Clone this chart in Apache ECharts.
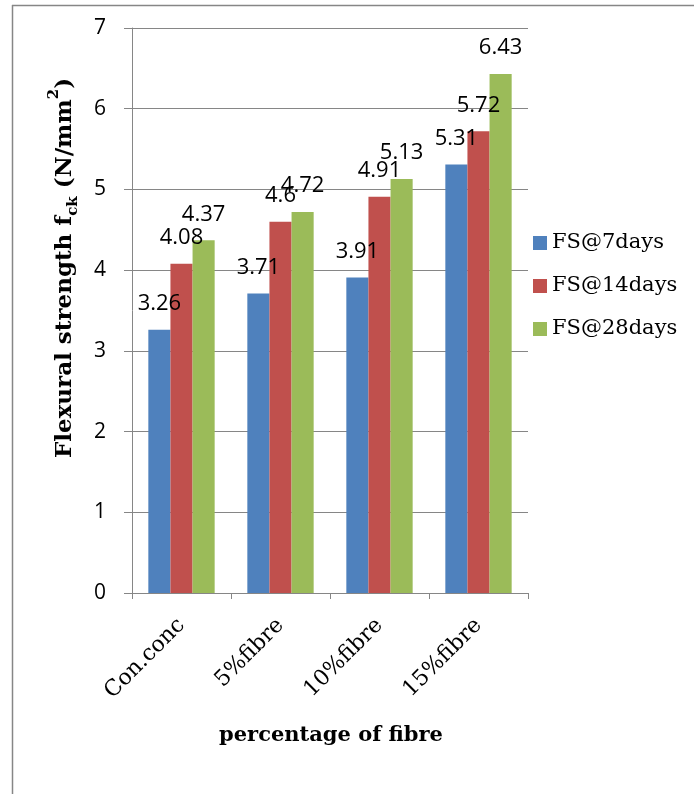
<!DOCTYPE html>
<html>
<head>
<meta charset="utf-8">
<style>
  html, body { margin: 0; padding: 0; background: #ffffff; overflow: hidden; }
  #chart { width: 694px; height: 794px; }
</style>
<script src="https://cdn.jsdelivr.net/npm/echarts@6/dist/echarts.min.js"></script>
</head>
<body>
<div id="chart"></div>
<script>
// Fibre content groups along the x axis
const categories = ['Con.conc', '5%fibre', '10%fibre', '15%fibre'];

// Flexural strength (N/mm²) at each curing age
const fs7days = [3.26, 3.71, 3.91, 5.31];
const fs14days = [4.08, 4.6, 4.91, 5.72];
const fs28days = [4.37, 4.72, 5.13, 6.43];

const seriesNames = ['FS@7days', 'FS@14days', 'FS@28days'];
const yTicks = { min: 0, max: 7, interval: 1 };

const colors = ['#4F81BD', '#C0504D', '#9BBB59'];
const axisGrey = '#868686';
const sansFont = '"Open Sans", "Noto Sans", sans-serif';
const serifFont = '"DejaVu Serif", "Liberation Serif", serif';

const chart = echarts.init(document.getElementById('chart'), null, { renderer: 'canvas' });

function barSeries(name, values, color) {
  return {
    name: name,
    type: 'bar',
    data: values,
    barGap: '0%',
    barCategoryGap: '33%',
    itemStyle: { color: color },
    label: {
      show: true,
      position: 'top',
      distance: 15,
      color: '#000',
      fontFamily: sansFont,
      fontSize: 22
    },
    emphasis: { disabled: true }
  };
}

chart.setOption({
  animation: false,
  backgroundColor: '#ffffff',
  grid: { left: 132, right: 166, top: 28, bottom: 201, containLabel: false },
  legend: {
    orient: 'vertical',
    left: 533,
    top: 232,
    padding: 0,
    itemWidth: 14,
    itemHeight: 14,
    itemGap: 21,
    icon: 'rect',
    data: seriesNames,
    textStyle: { fontFamily: serifFont, fontSize: 21, color: '#000', lineHeight: 22 }
  },
  xAxis: {
    type: 'category',
    data: categories,
    axisLine: { lineStyle: { color: axisGrey, width: 1 } },
    axisTick: { show: true, alignWithLabel: false, length: 6, lineStyle: { color: axisGrey } },
    axisLabel: {
      rotate: 45,
      margin: 29,
      color: '#000',
      fontFamily: serifFont,
      fontSize: 22,
      interval: 0
    }
  },
  yAxis: {
    type: 'value',
    min: yTicks.min,
    max: yTicks.max,
    interval: yTicks.interval,
    axisLine: { show: true, lineStyle: { color: axisGrey, width: 1 } },
    axisTick: { show: true, length: 8, lineStyle: { color: axisGrey } },
    splitLine: { show: true, lineStyle: { color: axisGrey, width: 1 } },
    axisLabel: { margin: 26, color: '#000', fontFamily: sansFont, fontSize: 21 }
  },
  series: [
    barSeries(seriesNames[0], fs7days, colors[0]),
    barSeries(seriesNames[1], fs14days, colors[1]),
    barSeries(seriesNames[2], fs28days, colors[2])
  ],
  graphic: [
    // outer frame: left edge
    {
      type: 'line',
      shape: { x1: 12.5, y1: 5, x2: 12.5, y2: 794 },
      style: { stroke: axisGrey, lineWidth: 1.5 },
      silent: true
    },
    // outer frame: top edge
    {
      type: 'line',
      shape: { x1: 12, y1: 5.5, x2: 694, y2: 5.5 },
      style: { stroke: axisGrey, lineWidth: 1.5 },
      silent: true
    },
    // y-axis title
    {
      type: 'text',
      x: 62,
      y: 268,
      rotation: Math.PI / 2,
      style: {
        text: '{b|Flexural strength f}{sub|ck}{b| (N/mm}{sup|2}{b|)}',
        align: 'center',
        verticalAlign: 'middle',
        rich: {
          b: { fontFamily: serifFont, fontWeight: 'bold', fontSize: 23, fill: '#000', verticalAlign: 'bottom', lineHeight: 30 },
          sub: { fontFamily: serifFont, fontWeight: 'bold', fontSize: 15, fill: '#000', verticalAlign: 'bottom', padding: [0, 0, -4, 0], lineHeight: 30 },
          sup: { fontFamily: serifFont, fontWeight: 'bold', fontSize: 15, fill: '#000', verticalAlign: 'top', lineHeight: 30 }
        }
      },
      silent: true
    },
    // x-axis title
    {
      type: 'text',
      x: 331,
      y: 736,
      style: {
        text: 'percentage of fibre',
        align: 'center',
        verticalAlign: 'middle',
        fontFamily: serifFont,
        fontWeight: 'bold',
        fontSize: 21,
        fill: '#000'
      },
      silent: true
    }
  ]
});
</script>
</body>
</html>
